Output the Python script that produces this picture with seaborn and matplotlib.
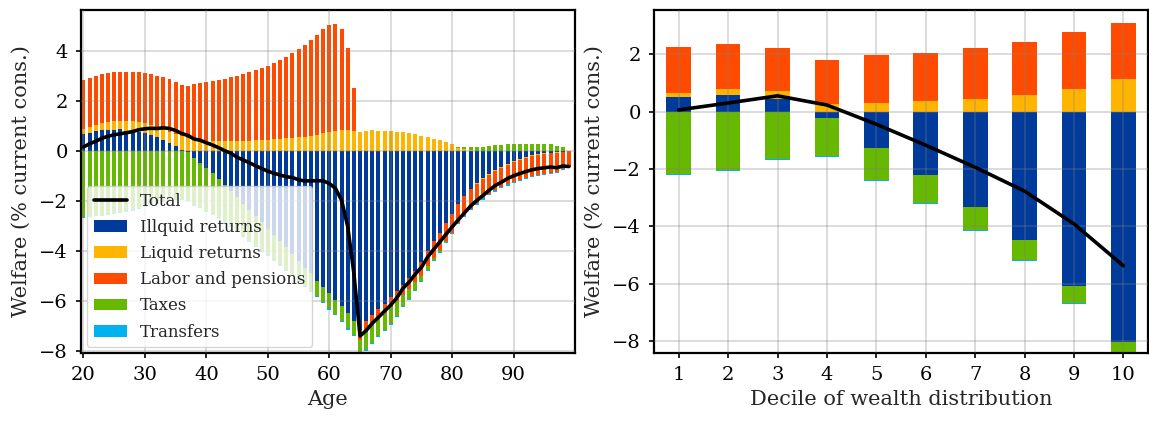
import numpy as np
import matplotlib
matplotlib.use("Agg")
import matplotlib.pyplot as plt
import seaborn as sns
from matplotlib.patches import Patch
from matplotlib.lines import Line2D

# ---- left panel: welfare decomposition by age ----
ages = np.arange(20, 100)
illiquid_age = [0.68, 0.72, 0.80, 0.84, 0.84, 0.84, 0.88, 0.80, 0.76, 0.76,
                0.72, 0.64, 0.56, 0.44, 0.32, 0.20, 0.04, -0.04, -0.27, -0.47,
                -0.69, -0.89, -1.13, -1.36, -1.60, -1.85, -2.10, -2.35, -2.60, -2.85,
                -3.10, -3.35, -3.60, -3.85, -4.10, -4.40, -4.67, -4.89, -5.20, -5.43,
                -5.69, -5.96, -6.20, -6.49, -6.79, -7.16, -6.80, -6.55, -6.33, -6.10,
                -5.85, -5.60, -5.35, -5.08, -4.78, -4.45, -4.00, -3.61, -3.26, -2.89,
                -2.51, -2.10, -1.80, -1.53, -1.29, -1.08, -0.90, -0.75, -0.62, -0.50,
                -0.39, -0.30, -0.22, -0.16, -0.11, -0.08, -0.06, -0.04, -0.02, -0.01]
liquid_age = [0.20, 0.23, 0.24, 0.28, 0.32, 0.36, 0.32, 0.40, 0.44, 0.40,
              0.40, 0.40, 0.36, 0.40, 0.44, 0.48, 0.56, 0.52, 0.44, 0.42,
              0.40, 0.40, 0.40, 0.40, 0.40, 0.40, 0.40, 0.40, 0.44, 0.44,
              0.44, 0.48, 0.48, 0.52, 0.52, 0.56, 0.56, 0.60, 0.64, 0.72,
              0.76, 0.80, 0.84, 0.84, 0.80, 0.76, 0.80, 0.84, 0.80, 0.80,
              0.80, 0.76, 0.76, 0.72, 0.68, 0.60, 0.56, 0.48, 0.44, 0.36,
              0.28, 0.12, 0.08, 0.03, -0.02, -0.03, -0.04, -0.04, -0.04, -0.04,
              -0.04, -0.04, -0.04, -0.03, -0.03, -0.03, -0.02, -0.02, -0.01, 0.00]
labor_age = [1.96, 1.98, 1.96, 1.97, 1.97, 1.96, 1.96, 1.96, 1.96, 2.00,
             2.01, 2.04, 2.08, 2.12, 2.12, 2.08, 2.04, 2.08, 2.24, 2.30,
             2.36, 2.40, 2.44, 2.48, 2.56, 2.60, 2.68, 2.76, 2.80, 2.88,
             2.96, 3.04, 3.16, 3.24, 3.40, 3.52, 3.68, 3.84, 4.00, 4.16,
             4.28, 4.28, 4.04, 3.28, 1.72, -0.40, -0.40, -0.40, -0.40, -0.38,
             -0.40, -0.38, -0.40, -0.45, -0.47, -0.53, -0.60, -0.65, -0.70, -0.72,
             -0.75, -0.77, -0.78, -0.78, -0.78, -0.78, -0.78, -0.78, -0.78, -0.79,
             -0.80, -0.80, -0.80, -0.80, -0.80, -0.80, -0.80, -0.78, -0.70, -0.60]
taxes_age = [-2.64, -2.60, -2.57, -2.54, -2.50, -2.47, -2.43, -2.39, -2.34, -2.27,
             -2.20, -2.13, -2.06, -1.99, -1.94, -1.90, -1.90, -1.90, -1.89, -1.78,
             -1.70, -1.63, -1.54, -1.47, -1.41, -1.36, -1.30, -1.24, -1.19, -1.13,
             -1.07, -1.02, -0.96, -0.90, -0.84, -0.79, -0.73, -0.70, -0.59, -0.60,
             -0.60, -0.56, -0.60, -0.60, -0.57, -0.55, -0.73, -0.73, -0.67, -0.67,
             -0.66, -0.60, -0.45, -0.38, -0.30, -0.22, -0.15, -0.10, -0.06, -0.03,
             0.00, 0.05, 0.08, 0.13, 0.16, 0.16, 0.20, 0.24, 0.24, 0.28,
             0.28, 0.28, 0.28, 0.28, 0.28, 0.28, 0.28, 0.20, 0.16, 0.02]
transfers_age = [-0.04] * 40 + [-0.05] * 30 + [-0.04] * 7 + [-0.03] * 3

# ---- right panel: welfare decomposition by wealth decile ----
deciles = np.arange(1, 11)
illiquid_dec = [0.51, 0.59, 0.43, -0.21, -1.25, -2.21, -3.31, -4.47, -6.06, -8.01]
liquid_dec = [0.15, 0.21, 0.30, 0.27, 0.30, 0.38, 0.44, 0.58, 0.79, 1.14]
labor_dec = [1.60, 1.57, 1.50, 1.53, 1.68, 1.67, 1.78, 1.85, 1.99, 1.95]
taxes_dec = [-2.16, -2.03, -1.65, -1.32, -1.13, -0.98, -0.81, -0.70, -0.61, -0.42]
transfers_dec = [-0.04, -0.04, -0.03, -0.04, -0.04, -0.03, -0.04, -0.03, -0.02, -0.03]

names = ["Illquid returns", "Liquid returns", "Labor and pensions", "Taxes", "Transfers"]
colors = ["#003a9b", "#ffb400", "#ff4b00", "#66b800", "#00b2ee"]

sns.set_theme(style="whitegrid")
plt.rcParams["font.family"] = ["DejaVu Serif"]
plt.rcParams["axes.unicode_minus"] = True


def stacked_bars(ax, x, parts, width):
    # positives stack upward from zero, negatives stack downward
    pos = np.zeros(len(x))
    neg = np.zeros(len(x))
    for vals, color in zip(parts, colors):
        vals = np.asarray(vals, dtype=float)
        base = np.where(vals >= 0, pos, neg)
        ax.bar(x, vals, width=width, bottom=base, color=color, linewidth=0, zorder=1)
        pos = pos + np.clip(vals, 0, None)
        neg = neg + np.clip(vals, None, 0)
    return pos + neg


def style_axes(ax):
    ax.set_facecolor("white")
    ax.grid(True, color="0.5", alpha=0.3, linewidth=1.3)
    ax.set_axisbelow(False)
    for s in ax.spines.values():
        s.set_color("black")
        s.set_linewidth(1.6)
    ax.tick_params(axis="both", which="major", labelsize=14, length=3.5, width=1.2,
                   colors="black", left=True, bottom=True, pad=6)


fig = plt.figure(figsize=(11.49, 4.21), dpi=100)
ax1 = fig.add_axes([0.0705, 0.1615, 0.4295, 0.8147])
ax2 = fig.add_axes([0.5692, 0.1615, 0.4300, 0.8147])

parts_age = [illiquid_age, liquid_age, labor_age, taxes_age, transfers_age]
total_age = stacked_bars(ax1, ages, parts_age, 0.65)
sns.lineplot(x=ages, y=total_age, color="black", linewidth=2.6, ax=ax1, zorder=3)
ax1.set_xlim(19.6, 99.9)
ax1.set_ylim(-8.08, 5.64)
ax1.set_xticks(np.arange(20, 100, 10))
ax1.set_yticks(np.arange(-8, 5, 2))
ax1.set_xlabel("Age", fontsize=15, labelpad=4)
ax1.set_ylabel("Welfare (% current cons.)", fontsize=15, labelpad=6)
style_axes(ax1)

handles = [Line2D([0], [0], color="black", linewidth=2.6)]
handles += [Patch(facecolor=c, edgecolor="none") for c in colors]
ax1.legend(handles, ["Total"] + names, loc="lower left", fontsize=12,
           framealpha=0.8, edgecolor="0.8", fancybox=True, labelspacing=0.55,
           borderaxespad=0.35, handlelength=2.0)

parts_dec = [illiquid_dec, liquid_dec, labor_dec, taxes_dec, transfers_dec]
total_dec = stacked_bars(ax2, deciles, parts_dec, 0.5)
sns.lineplot(x=deciles, y=total_dec, color="black", linewidth=2.6, ax=ax2, zorder=3)
ax2.set_xlim(0.5, 10.5)
ax2.set_ylim(-8.41, 3.54)
ax2.set_xticks(deciles)
ax2.set_yticks(np.arange(-8, 3, 2))
ax2.set_xlabel("Decile of wealth distribution", fontsize=15, labelpad=4)
ax2.set_ylabel("Welfare (% current cons.)", fontsize=15, labelpad=6)
style_axes(ax2)

fig.savefig("out.png", dpi=100)
